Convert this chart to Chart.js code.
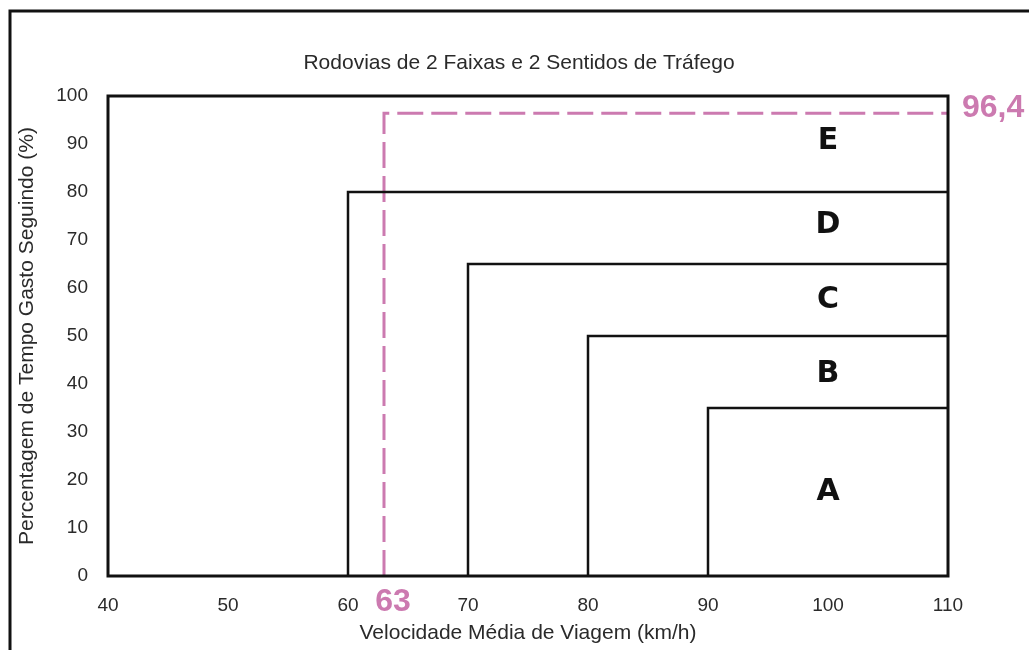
<!DOCTYPE html>
<html>
<head>
	<meta charset="utf-8">
	<script src="https://cdn.jsdelivr.net/npm/chart.js"></script>
	<title>Rodovias de 2 Faixas</title>
	<style type="text/css">
		body{ margin:0; background:#fff; }
		canvas{ display:block; }
	</style>
</head>
<body>
<canvas id="losChart" width="1029" height="650"></canvas>
<script>
  // limites de nível de serviço: velocidade mínima e PTSF máximo
  const losLetters = ['A', 'B', 'C', 'D', 'E'];
  const losSpeeds = [90, 80, 70, 60];
  const losPtsf = [35, 50, 65, 80];
  const letterSpeed = [100, 100, 100, 100, 100];
  const letterPtsf = [17.5, 42, 57.5, 73, 90.5];

  // ponto calculado
  const speedValue = 63;
  const ptsfValue = 96.4;

  const xMin = 40, xMax = 110;
  const yMin = 0, yMax = 100;

  const pink = 'rgb(204, 122, 176)';
  const textColor = '#2a2a2a';
  const font = "'Liberation Sans', Arial, sans-serif";

  const datasets = [];
  losSpeeds.forEach(function(s, i){
    datasets.push({
      data: [{x: s, y: 0}, {x: s, y: losPtsf[i]}, {x: xMax, y: losPtsf[i]}],
      borderColor: '#111',
      borderWidth: 2.5,
      pointRadius: 0,
      tension: 0
    });
  });
  datasets.push({
    data: [{x: speedValue, y: 0}, {x: speedValue, y: ptsfValue}, {x: xMax, y: ptsfValue}],
    borderColor: pink,
    borderWidth: 3,
    borderDash: [26, 8],
    pointRadius: 0,
    tension: 0
  });

  const framePlugin = {
    id: 'frame',
    beforeDraw: function(chart){
      const ctx = chart.ctx;
      ctx.save();
      ctx.strokeStyle = '#111';
      ctx.lineWidth = 3;
      ctx.strokeRect(10, 11, 1200, 1000);
      ctx.fillStyle = textColor;
      ctx.font = '21px ' + font;
      ctx.textAlign = 'center';
      ctx.textBaseline = 'middle';
      ctx.fillText('Rodovias de 2 Faixas e 2 Sentidos de Tráfego', 519, 63);
      ctx.restore();
    },
    afterDatasetsDraw: function(chart){
      const ctx = chart.ctx;
      const a = chart.chartArea;
      const xs = chart.scales.x, ys = chart.scales.y;
      ctx.save();
      ctx.strokeStyle = '#111';
      ctx.lineWidth = 3;
      ctx.strokeRect(a.left, a.top, a.right - a.left, a.bottom - a.top);

      // letras de nível de serviço
      ctx.fillStyle = '#111';
      ctx.font = "bold 30px 'DejaVu Sans', sans-serif";
      ctx.textAlign = 'center';
      ctx.textBaseline = 'middle';
      losLetters.forEach(function(l, i){
        ctx.fillText(l, xs.getPixelForValue(letterSpeed[i]), ys.getPixelForValue(letterPtsf[i]));
      });

      ctx.fillStyle = pink;
      ctx.font = 'bold 32px ' + font;
      ctx.textAlign = 'center';
      ctx.fillText(String(speedValue), xs.getPixelForValue(speedValue) + 9, a.bottom + 26);
      ctx.textAlign = 'left';
      ctx.fillText(String(ptsfValue).replace('.', ','), a.right + 14, ys.getPixelForValue(ptsfValue) - 5);
      ctx.restore();
    }
  };

  new Chart(document.getElementById('losChart'), {
    type: 'line',
    data: { datasets: datasets },
    options: {
      responsive: false,
      animation: false,
      layout: { padding: { top: 96, right: 81, left: 0, bottom: 0 } },
      plugins: { legend: { display: false }, tooltip: { enabled: false } },
      scales: {
        x: {
          type: 'linear',
          min: xMin, max: xMax,
          grid: { display: false, drawTicks: false },
          border: { display: false },
          ticks: { stepSize: 10, padding: 18, color: textColor, font: { family: font, size: 19 } },
          title: { display: true, text: 'Velocidade Média de Viagem (km/h)', color: textColor, font: { family: font, size: 21 }, padding: { top: 0 } },
          afterFit: function(s){ s.height = 74; }
        },
        y: {
          min: yMin, max: yMax,
          grid: { display: false, drawTicks: false },
          border: { display: false },
          ticks: { stepSize: 10, padding: 20, color: textColor, font: { family: font, size: 19 } },
          title: { display: true, text: 'Percentagem de Tempo Gasto Seguindo (%)', color: textColor, font: { family: font, size: 21 }, padding: { top: 15 } },
          afterFit: function(s){ s.width = 108; }
        }
      }
    },
    plugins: [framePlugin]
  });
</script>
</body>
</html>
